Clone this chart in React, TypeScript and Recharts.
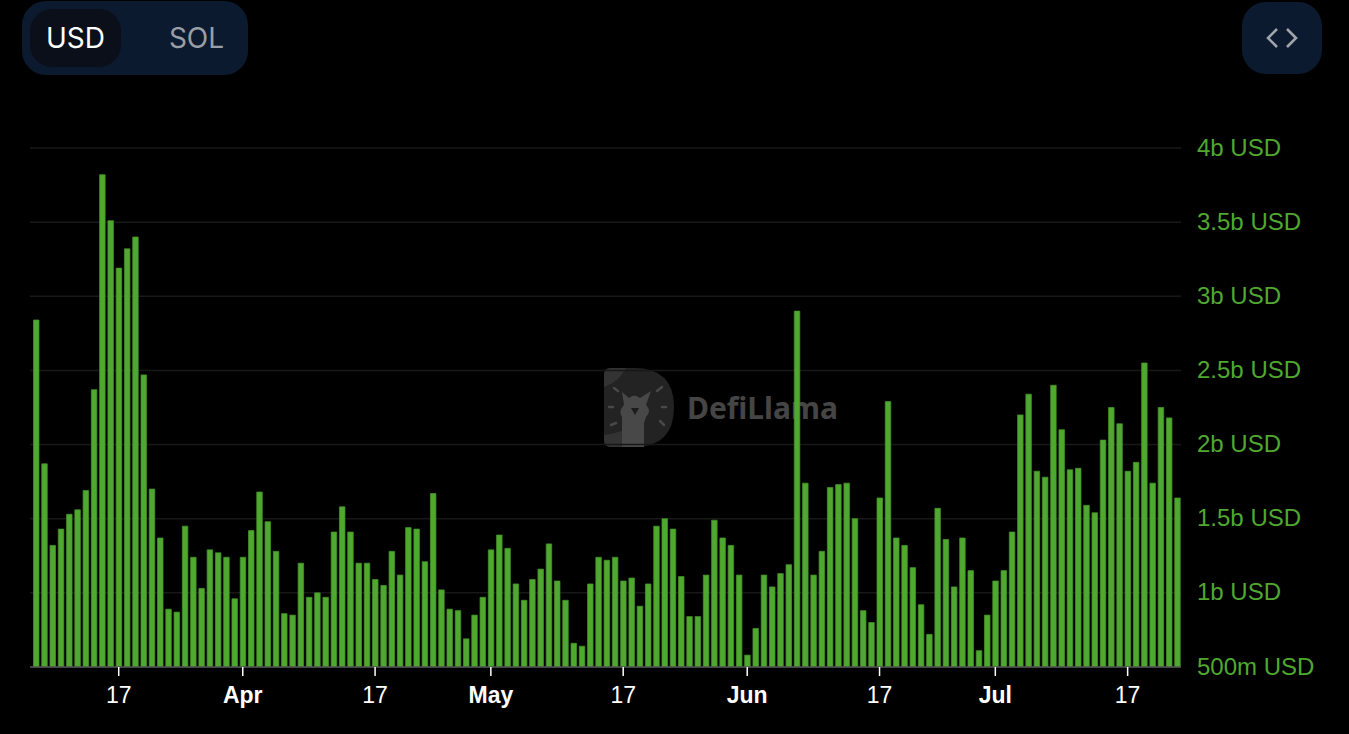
import { Bar, BarChart, CartesianGrid, XAxis, YAxis } from "recharts";

// daily volume in billions of USD, one entry per day
const volumes = [
  2.84, 1.87, 1.32, 1.43, 1.53, 1.56, 1.69, 2.37, 3.82, 3.51, 3.19, 3.32, 3.4, 2.47, 1.7, 1.37, 0.89, 0.87, 1.45, 1.24,
  1.03, 1.29, 1.27, 1.24, 0.96, 1.24, 1.42, 1.68, 1.48, 1.28, 0.86, 0.85, 1.2, 0.97, 1.0, 0.97, 1.41, 1.58, 1.41, 1.2,
  1.2, 1.09, 1.05, 1.28, 1.12, 1.44, 1.43, 1.21, 1.67, 1.02, 0.89, 0.88, 0.69, 0.85, 0.97, 1.29, 1.39, 1.3, 1.06, 0.95,
  1.09, 1.16, 1.33, 1.08, 0.95, 0.66, 0.64, 1.06, 1.24, 1.22, 1.24, 1.08, 1.1, 0.91, 1.06, 1.45, 1.5, 1.43, 1.11, 0.84,
  0.84, 1.12, 1.49, 1.37, 1.32, 1.12, 0.58, 0.76, 1.12, 1.04, 1.13, 1.19, 2.9, 1.74, 1.12, 1.28, 1.71, 1.73, 1.74, 1.5,
  0.88, 0.8, 1.64, 2.29, 1.37, 1.32, 1.17, 0.92, 0.72, 1.57, 1.36, 1.04, 1.37, 1.15, 0.61, 0.85, 1.08, 1.15, 1.41, 2.2,
  2.34, 1.82, 1.78, 2.4, 2.1, 1.83, 1.84, 1.59, 1.54, 2.03, 2.25, 2.14, 1.82, 1.88, 2.55, 1.74, 2.25, 2.18, 1.64,
];

const xTicks = [10, 25, 41, 55, 71, 86, 102, 116, 132];
const xLabels = ["17", "Apr", "17", "May", "17", "Jun", "17", "Jul", "17"];
const yTicks = [0.5, 1, 1.5, 2, 2.5, 3, 3.5, 4];
const yLabels = ["500m USD", "1b USD", "1.5b USD", "2b USD", "2.5b USD", "3b USD", "3.5b USD", "4b USD"];

const data = volumes.map((volume, day) => ({ day, volume }));

const GREEN = "#4fa82f";
const SANS = "'Liberation Sans', Arial, sans-serif";

// tick and label sit a bit left of the bar centre in the original
function XTick({ x, payload }: any) {
  const label = xLabels[xTicks.indexOf(payload.value)];
  return (
    <g>
      <line x1={x - 0.6} x2={x - 0.6} y1={667} y2={676} stroke="#fff" strokeWidth={1.5} />
      <text
        x={x - 0.6}
        y={703}
        textAnchor="middle"
        fill="#fff"
        fontFamily={SANS}
        fontSize={23}
        fontWeight={label === "17" ? 400 : 700}
      >
        {label}
      </text>
    </g>
  );
}

function YTick({ x, y, payload }: any) {
  return (
    <text x={x} y={y + 7.5} fill={GREEN} fontFamily={SANS} fontSize={24}>
      {yLabels[yTicks.indexOf(payload.value)]}
    </text>
  );
}

function Watermark() {
  return (
    <svg width={250} height={84} style={{ position: "absolute", left: 600, top: 365 }}>
      <path d="M4 10 Q4 3 11 3 H34 Q74 3 74 42 Q74 82 34 82 H11 Q4 82 4 75 Z" fill="#232323" />
      <path d="M4 10 Q4 3 11 3 H26 Q18 18 4 22 Z" fill="#333" />
      <path d="M4 70 Q12 69 22 66 V82 H11 Q4 82 4 75 Z" fill="#333" />
      <path
        d="M22 82 V52 Q18 46 24 40 L22 27 L29 33 Q34 28 40 33 L51 26 L46 40 Q52 46 46 52 L44 58 V82 Z"
        fill="#484848"
      />
      <path d="M31 43 H39 L35 50 Z" fill="#1c1c1c" />
      <path
        d="M13 52 H9 M62 52 H66 M18 36 L14 33 M57 36 L62 32 M16 68 L11 70 M60 66 L64 70"
        transform="translate(0 -10)"
        stroke="#484848"
        strokeWidth={2.5}
        strokeLinecap="round"
      />
      <text x={87} y={54} fill="#454545" fontFamily="'Noto Sans', sans-serif" fontWeight={700} fontSize={30} textLength={151}>
        DefiLlama
      </text>
    </svg>
  );
}

export default function App() {
  return (
    <div style={{ position: "fixed", left: 0, top: 0, width: 1349, height: 734, background: "#000", overflow: "hidden" }}>
      <div
        style={{
          position: "absolute",
          left: 22,
          top: 1,
          width: 226,
          height: 74,
          borderRadius: 24,
          background: "#0c1a30",
          fontFamily: "Inter, sans-serif",
          fontSize: 28,
        }}
      >
        <div
          style={{
            position: "absolute",
            left: 8,
            top: 8,
            width: 91,
            height: 58,
            lineHeight: "58px",
            borderRadius: 22,
            background: "#0a0f1a",
            color: "#fff",
            textAlign: "center",
          }}
        >
          USD
        </div>
        <div
          style={{
            position: "absolute",
            left: 129,
            top: 8,
            width: 91,
            height: 58,
            lineHeight: "58px",
            color: "#9a9ea6",
            textAlign: "center",
          }}
        >
          SOL
        </div>
      </div>

      <div style={{ position: "absolute", left: 1242, top: 2, width: 80, height: 72, borderRadius: 24, background: "#0c1a30" }}>
        <svg width={80} height={72}>
          <path d="M35 27 L26 36 L35 45 M45 27 L54 36 L45 45" fill="none" stroke="#a0a4ab" strokeWidth={2.6} />
        </svg>
      </div>

      <Watermark />

      <div style={{ position: "absolute", left: 0, top: 0 }}>
        <BarChart width={1349} height={734} data={data} margin={{ top: 148, right: 0, bottom: 0, left: 30 }}>
          <CartesianGrid vertical={false} stroke="#181818" strokeWidth={1.5} />
          <XAxis
            dataKey="day"
            type="number"
            domain={[-0.8, 138.38]}
            allowDataOverflow
            ticks={xTicks}
            interval={0}
            height={67}
            tickLine={false}
            axisLine={{ stroke: "#555", strokeWidth: 1.5 }}
            tick={<XTick />}
          />
          <YAxis
            orientation="right"
            type="number"
            domain={[0.5, 4]}
            allowDataOverflow
            ticks={yTicks}
            interval={0}
            width={168}
            tickLine={false}
            axisLine={false}
            tickSize={0}
            tickMargin={16}
            tick={<YTick />}
          />
          <Bar dataKey="volume" fill={GREEN} stroke="#45932a" strokeWidth={0.75} barSize={5.5} isAnimationActive={false} />
        </BarChart>
      </div>
    </div>
  );
}
